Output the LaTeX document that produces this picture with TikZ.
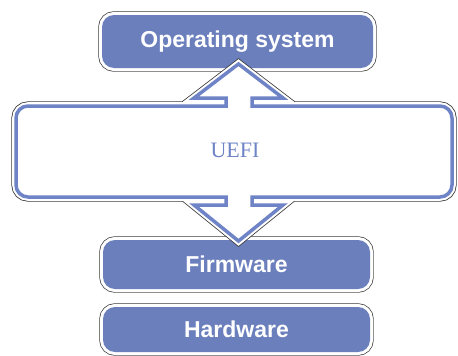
\documentclass[tikz,border=0pt]{standalone}
\usepackage{fontspec}
\setmainfont{Liberation Serif}
\newfontfamily\boxfont{Liberation Sans}
\definecolor{boxblue}{HTML}{6B7FBD}
\definecolor{lineblue}{HTML}{6E84C6}
\definecolor{edgegray}{HTML}{3A3A3A}
\begin{document}
\begin{tikzpicture}[x=1pt,y=-1pt,
  layerbox/.style={rounded corners=12pt, inner sep=0pt, fill=boxblue,
    preaction={draw=edgegray, line width=7.4pt},
    preaction={draw=white, line width=6pt},
    text=white, font=\boxfont\bfseries\fontsize{23}{26}\selectfont},
  uefishape/.style={fill=white, draw=lineblue, line width=3.5pt, line join=miter,
    preaction={draw=edgegray, line width=9.2pt},
    preaction={draw=white, line width=7.6pt}},
  uefilabel/.style={text=lineblue, font=\fontsize{22}{25}\selectfont, inner sep=0pt}]
\useasboundingbox (0,0) rectangle (458,356);
\node[layerbox, minimum width=271pt, minimum height=53pt] (os) at (237.5,41.5) {Operating system};
\node[layerbox, minimum width=267pt, minimum height=49pt] (fw) at (236.5,264.5) {Firmware};
\node[layerbox, minimum width=267pt, minimum height=45pt] (hw) at (236.5,329.5) {Hardware};
% combined UEFI box with double arrow
\draw[uefishape] (238.5,64) -- (283,98) -- (252,98) -- (252,106)
  -- (440,106) arc[start angle=90, end angle=0, radius=12pt]
  -- (452,185) arc[start angle=0, end angle=-90, radius=12pt]
  -- (252,197) -- (252,205) -- (283,205) -- (238.5,241) -- (194,205)
  -- (226,205) -- (226,197)
  -- (28,197) arc[start angle=270, end angle=180, radius=12pt]
  -- (16,118) arc[start angle=180, end angle=90, radius=12pt]
  -- (226,106) -- (226,98) -- (194,98) -- cycle;
\node[uefilabel] (uefi) at (235,150) {UEFI};
\end{tikzpicture}
\end{document}
